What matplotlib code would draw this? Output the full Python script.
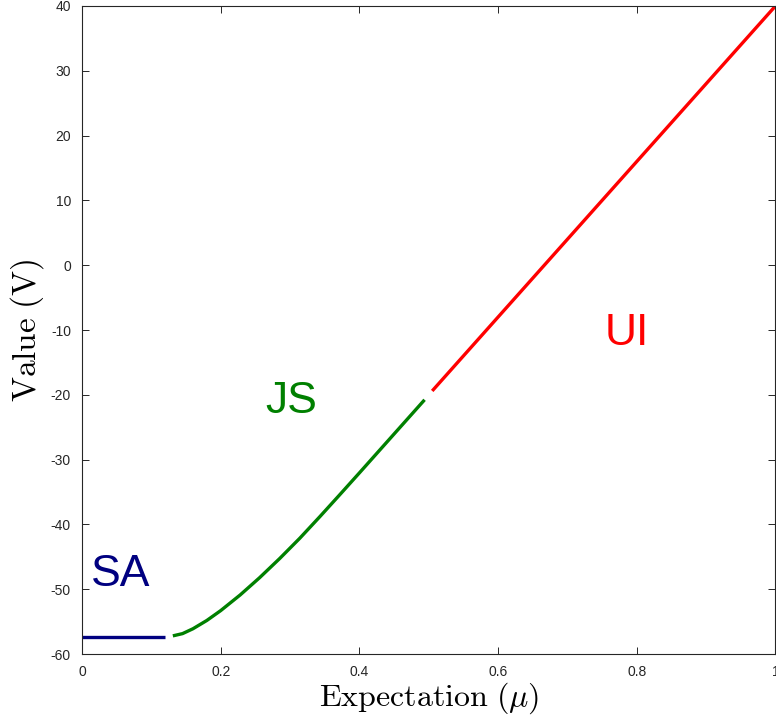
import matplotlib.pyplot as plt
import numpy as np

plt.rcParams['font.family'] = ['Liberation Sans', 'DejaVu Sans']
plt.rcParams['mathtext.fontset'] = 'cm'
plt.rcParams['axes.unicode_minus'] = False

# SA: flat branch
sa_x = [0.0, 0.12]
sa_y = [-57.3, -57.3]

# JS: curved branch
js_x = [0.131, 0.145, 0.16, 0.18, 0.2, 0.228, 0.256, 0.285, 0.314, 0.343, 0.371, 0.4, 0.429, 0.46, 0.494]
js_y = [-57.2, -56.85, -56.1, -54.82, -53.3, -50.89, -48.23, -45.27, -42.14, -38.8, -35.5, -32.05, -28.57, -24.85, -20.77]

# UI: linear branch
ui_x = [0.505, 1.0]
ui_y = [-19.4, 40.0]

labels = ['SA', 'JS', 'UI']
label_x = [0.055, 0.302, 0.786]
label_y = [-47.8, -21.1, -10.5]
colors = ['#000080', '#008000', '#ff0000']

xticks = [0, 0.2, 0.4, 0.6, 0.8, 1]
xtick_labels = ['0', '0.2', '0.4', '0.6', '0.8', '1']
yticks = [-60, -50, -40, -30, -20, -10, 0, 10, 20, 30, 40]

fig = plt.figure(figsize=(7.76, 7.21), dpi=100)
ax = fig.add_axes([0.1057, 0.0929, 0.8936, 0.8988])

for xs, ys, c in zip([sa_x, js_x, ui_x], [sa_y, js_y, ui_y], colors):
    ax.plot(xs, ys, color=c, linewidth=2.4, solid_capstyle='butt')

for t, tx, ty, c in zip(labels, label_x, label_y, colors):
    ax.text(tx, ty, t, color=c, fontsize=32, ha='center', va='center')

ax.set_xlim(0, 1)
ax.set_ylim(-60, 40)
ax.set_xticks(xticks)
ax.set_xticklabels(xtick_labels)
ax.set_yticks(yticks)
ax.tick_params(direction='in', top=True, right=True, length=5, width=0.7,
               labelsize=10, colors='#262626', pad=8)
for s in ax.spines.values():
    s.set_color('#262626')
    s.set_linewidth(0.8)

ax.set_xlabel(r'$\mathrm{Expectation}\ (\mu)$', fontsize=23, labelpad=1)
ax.set_ylabel(r'$\mathrm{Value}\ \mathrm{(V)}$', fontsize=24, labelpad=3)

fig.savefig('out.png', dpi=100)
